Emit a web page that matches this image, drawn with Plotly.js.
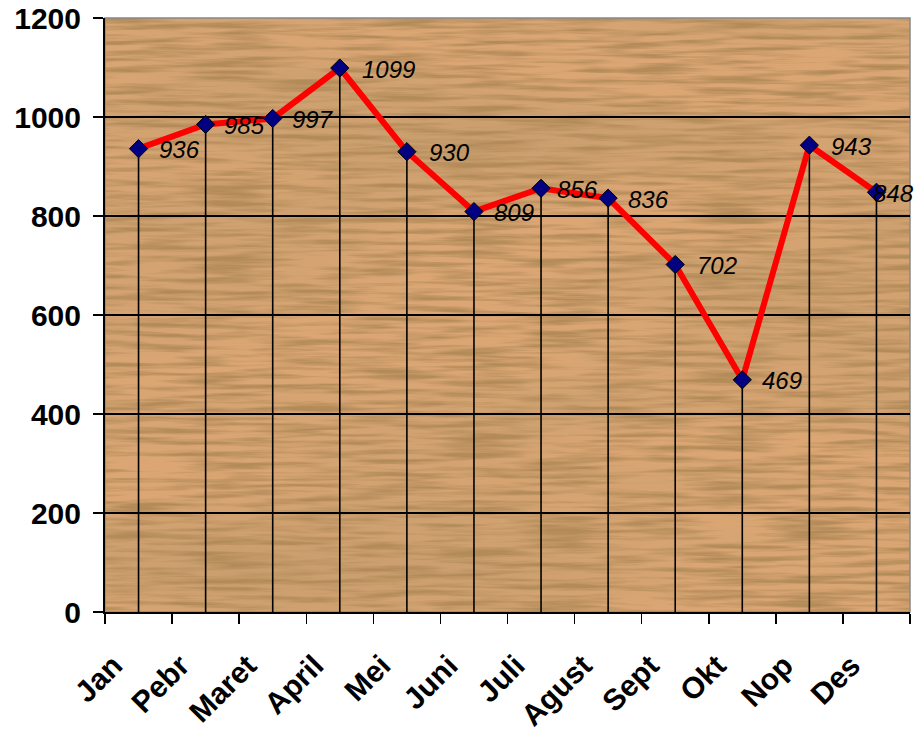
<!DOCTYPE html>
<html>
<head>
<meta charset="utf-8">
<script src="https://cdn.plot.ly/plotly-3.0.1.min.js"></script>
<style>html,body{margin:0;padding:0;background:#fff;}</style>
</head>
<body>
<div id="chart" style="width:924px;height:737px;"></div>
<script>
var months = ["Jan","Pebr","Maret","April","Mei","Juni","Juli","Agust","Sept","Okt","Nop","Des"];
var values = [936, 985, 997, 1099, 930, 809, 856, 836, 702, 469, 943, 848];
var yTicks = [0, 200, 400, 600, 800, 1000, 1200];
var labelShift = [18, 16, 17, 20, 20, 18, 14, 18, 20, 18, 20, -5];

var woodSvg = '<svg xmlns="http://www.w3.org/2000/svg" width="805" height="594" viewBox="0 0 805 594">' +
  '<defs><filter id="w" x="0" y="0" width="100%" height="100%">' +
  '<feTurbulence type="fractalNoise" baseFrequency="0.012 0.18" numOctaves="3" seed="11" result="n"/>' +
  '<feColorMatrix in="n" type="matrix" values="0 0 0 0 0.45  0 0 0 0 0.26  0 0 0 0 0.10  2.8 0 0 0 -1.1"/>' +
  '</filter>' +
  '<filter id="v" x="0" y="0" width="100%" height="100%">' +
  '<feTurbulence type="fractalNoise" baseFrequency="0.002 0.012" numOctaves="2" seed="3" result="m"/>' +
  '<feColorMatrix in="m" type="matrix" values="0 0 0 0 0.55  0 0 0 0 0.33  0 0 0 0 0.15  1.6 0 0 0 -0.6"/>' +
  '</filter></defs>' +
  '<rect width="805" height="594" fill="#dba674"/>' +
  '<rect width="805" height="594" filter="url(#v)"/>' +
  '<rect width="805" height="594" filter="url(#w)"/>' +
  '</svg>';
var woodUrl = 'data:image/svg+xml;charset=utf-8,' + encodeURIComponent(woodSvg);

var dropTrace = {
  x: months, y: values, type: 'scatter', mode: 'markers',
  marker: {size: 1, color: 'rgba(0,0,0,0)'},
  error_y: {type: 'data', symmetric: false, array: values.map(function(){return 0;}), arrayminus: values,
            color: '#000', thickness: 1.6, width: 0},
  hoverinfo: 'skip', showlegend: false
};

var lineTrace = {
  x: months, y: values, type: 'scatter', mode: 'lines+markers',
  line: {color: '#ff0000', width: 6},
  marker: {symbol: 'diamond', size: 14, color: '#000080', line: {color: '#000', width: 1}},
  cliponaxis: false, showlegend: false
};

var annotations = months.map(function(m, i) {
  return {x: m, y: values[i], xref: 'x', yref: 'y', text: String(values[i]), showarrow: false,
          xanchor: 'left', yanchor: 'middle', xshift: labelShift[i], yshift: -1,
          font: {family: 'Liberation Sans, Arial, sans-serif', size: 24, color: '#000', style: 'italic'}};
});

var layout = {
  width: 924, height: 737,
  margin: {l: 105, r: 14, t: 18, b: 125},
  paper_bgcolor: '#ffffff', plot_bgcolor: 'rgba(0,0,0,0)',
  showlegend: false,
  annotations: annotations,
  images: [{source: woodUrl, xref: 'paper', yref: 'paper', x: 0, y: 1, sizex: 1, sizey: 1,
            xanchor: 'left', yanchor: 'top', sizing: 'stretch', layer: 'below'}],
  shapes: [{type: 'rect', xref: 'paper', yref: 'paper', x0: 0, x1: 1, y0: 0, y1: 1,
            line: {color: '#888', width: 1.5}, layer: 'below'}],
  xaxis: {
    type: 'category', range: [-0.5, 11.5], tickson: 'boundaries',
    ticks: 'outside', ticklen: 10, tickwidth: 1.5, tickcolor: '#000',
    showline: true, linecolor: '#000', linewidth: 2, showgrid: false, zeroline: false,
    tickangle: -45, ticklabelstandoff: 22, ticklabelshift: -25,
    tickfont: {family: 'Liberation Sans, Arial, sans-serif', size: 30, color: '#000', weight: 'bold'}
  },
  yaxis: {
    range: [0, 1200], tickvals: yTicks, ticktext: yTicks.map(String),
    ticks: 'outside', ticklen: 10, tickwidth: 1.5, tickcolor: '#000',
    showline: true, linecolor: '#000', linewidth: 2, ticklabelstandoff: 6,
    showgrid: true, gridcolor: '#000', gridwidth: 1.5, zeroline: false,
    tickfont: {family: 'Liberation Sans, Arial, sans-serif', size: 30, color: '#000', weight: 'bold'}
  }
};

Plotly.newPlot('chart', [dropTrace, lineTrace], layout, {displayModeBar: false, staticPlot: true});
</script>
</body>
</html>
